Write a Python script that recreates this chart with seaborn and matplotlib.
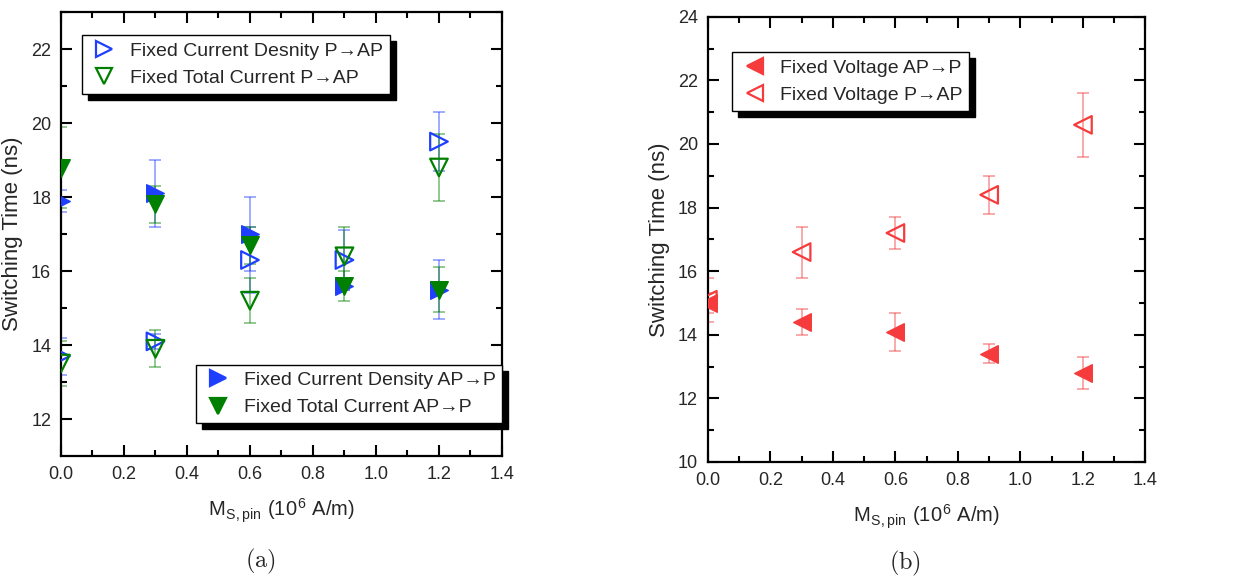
import matplotlib
matplotlib.use("Agg")
import matplotlib.pyplot as plt
from matplotlib.lines import Line2D
import seaborn as sns
import pandas as pd

# data
ms_pin = [0.0, 0.3, 0.6, 0.9, 1.2]

cd_p2ap = [13.7, 14.1, 16.3, 16.3, 19.5]
cd_p2ap_err = [0.5, 0.2, 0.9, 0.8, 0.8]
tc_p2ap = [13.5, 13.9, 15.2, 16.4, 18.8]
tc_p2ap_err = [0.6, 0.5, 0.6, 0.8, 0.9]
cd_ap2p = [17.9, 18.1, 17.0, 15.6, 15.5]
cd_ap2p_err = [0.3, 0.9, 1.0, 0.1, 0.8]
tc_ap2p = [18.8, 17.8, 16.7, 15.6, 15.5]
tc_ap2p_err = [1.1, 0.5, 0.5, 0.4, 0.6]

v_ap2p = [15.0, 14.4, 14.1, 13.4, 12.8]
v_ap2p_err = [0.3, 0.4, 0.6, 0.3, 0.5]
v_p2ap = [15.1, 16.6, 17.2, 18.4, 20.6]
v_p2ap_err = [0.7, 0.8, 0.5, 0.6, 1.0]

BLUE = "#1f3fff"
GREEN = "#008000"
RED = "#f53b3b"

sns.set_theme(style="ticks")
plt.rcParams["font.family"] = ["Liberation Sans", "DejaVu Sans"]
plt.rcParams["mathtext.fontset"] = "cm"

fig = plt.figure(figsize=(12.44, 5.78), dpi=100)
ax_a = fig.add_axes([0.049, 0.211, 0.3545, 0.768])
ax_b = fig.add_axes([0.569, 0.2007, 0.3518, 0.7704])


def draw_series(ax, y, err, color, marker, filled):
    df = pd.DataFrame({"x": ms_pin, "y": y})
    ax.errorbar(df["x"], df["y"], yerr=err, fmt="none", ecolor=color,
                alpha=0.5, elinewidth=1.2, capsize=4, capthick=1.2, zorder=2)
    if filled:
        sns.scatterplot(data=df, x="x", y="y", ax=ax, marker=marker, s=160,
                        color=color, edgecolor=color, linewidth=1, zorder=3)
    else:
        sns.scatterplot(data=df, x="x", y="y", ax=ax, marker=marker, s=160,
                        facecolor="none", edgecolor=color, linewidth=1.6, zorder=3)


def handle(color, marker, filled):
    return Line2D([], [], ls="none", marker=marker, markersize=12,
                  markerfacecolor=color if filled else "none",
                  markeredgecolor=color, markeredgewidth=1.6)


def style_axes(ax, ylim, yticks):
    ax.set_xlim(0, 1.4)
    ax.set_ylim(*ylim)
    ax.set_xticks([0, 0.2, 0.4, 0.6, 0.8, 1.0, 1.2, 1.4])
    ax.set_xticks([0.1, 0.3, 0.5, 0.7, 0.9, 1.1, 1.3], minor=True)
    ax.set_xticklabels(["0.0", "0.2", "0.4", "0.6", "0.8", "1.0", "1.2", "1.4"])
    ax.set_yticks(yticks)
    ax.set_yticks([v + 1 for v in range(int(ylim[0]), int(ylim[1]))], minor=True)
    ax.tick_params(which="both", direction="in", top=True, right=True,
                   labelsize=13, width=1.5, color="black", pad=7)
    ax.tick_params(which="major", length=8)
    ax.tick_params(which="minor", length=4)
    for sp in ax.spines.values():
        sp.set_linewidth(1.6)
        sp.set_color("black")
    ax.set_xlabel(r"M$_{\mathregular{S,pin}}$ (10$^{\mathregular{6}}$ A/m)",
                  fontsize=14.5, labelpad=10)
    ax.set_ylabel("Switching Time (ns)", fontsize=16, labelpad=6)


def boxed_legend(ax, handles, labels, loc, anchor):
    leg = ax.legend(handles, labels, loc=loc, bbox_to_anchor=anchor,
                    borderaxespad=0, frameon=True, fancybox=False,
                    edgecolor="black", framealpha=1, fontsize=14,
                    handlelength=1.6, handletextpad=0.5, borderpad=0.35,
                    labelspacing=0.5,
                    shadow={"ox": 4.3, "oy": -4.3, "color": "black", "alpha": 1})
    leg.get_frame().set_linewidth(1.0)
    return leg


# panel (a)
draw_series(ax_a, cd_p2ap, cd_p2ap_err, BLUE, ">", False)
draw_series(ax_a, cd_ap2p, cd_ap2p_err, BLUE, ">", True)
draw_series(ax_a, tc_p2ap, tc_p2ap_err, GREEN, "v", False)
draw_series(ax_a, tc_ap2p, tc_ap2p_err, GREEN, "v", True)
style_axes(ax_a, (11, 23), [12, 14, 16, 18, 20, 22])

leg1 = boxed_legend(ax_a,
                    [handle(BLUE, ">", False), handle(GREEN, "v", False)],
                    ["Fixed Current Desnity P\u2192AP", "Fixed Total Current P\u2192AP"],
                    "upper left", (0.048, 0.948))
ax_a.add_artist(leg1)
boxed_legend(ax_a,
             [handle(BLUE, ">", True), handle(GREEN, "v", True)],
             ["Fixed Current Density AP\u2192P", "Fixed Total Current AP\u2192P"],
             "lower left", (0.306, 0.074))

# panel (b)
draw_series(ax_b, v_ap2p, v_ap2p_err, RED, "<", True)
draw_series(ax_b, v_p2ap, v_p2ap_err, RED, "<", False)
style_axes(ax_b, (10, 24), [10, 12, 14, 16, 18, 20, 22, 24])
boxed_legend(ax_b,
             [handle(RED, "<", True), handle(RED, "<", False)],
             ["Fixed Voltage AP\u2192P", "Fixed Voltage P\u2192AP"],
             "upper left", (0.056, 0.92))

fig.text(260 / 1244, 1 - 561 / 578, r"$\mathrm{(a)}$", fontsize=17.5, ha="center", va="center")
fig.text(905 / 1244, 1 - 563 / 578, r"$\mathrm{(b)}$", fontsize=17.5, ha="center", va="center")

fig.savefig("out.png", dpi=100)
